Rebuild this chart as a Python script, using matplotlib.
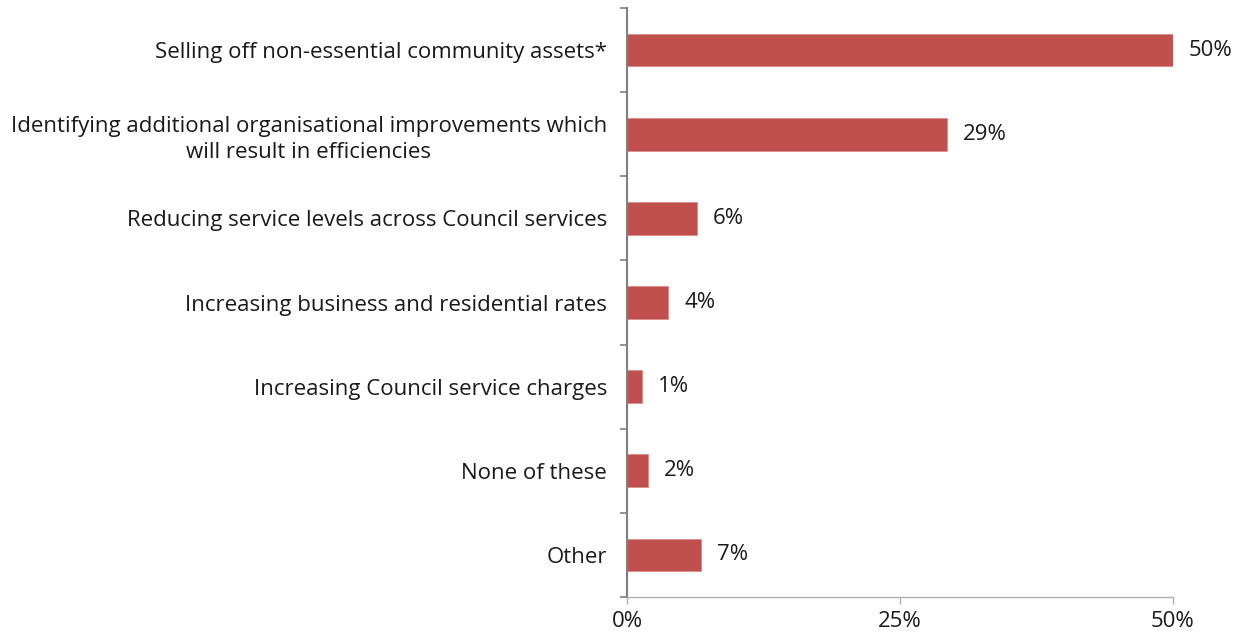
import matplotlib.pyplot as plt
import numpy as np

categories = [
    "Selling off non-essential community assets*",
    "Identifying additional organisational improvements which\nwill result in efficiencies",
    "Reducing service levels across Council services",
    "Increasing business and residential rates",
    "Increasing Council service charges",
    "None of these",
    "Other",
]
values = [50.0, 29.3, 6.4, 3.8, 1.4, 1.9, 6.8]
xticks = [0, 25, 50]

plt.rcParams['font.family'] = ['Open Sans', 'DejaVu Sans']
FS = 16

fig = plt.figure(figsize=(12.48, 6.34), dpi=100)
ax = fig.add_axes([627 / 1248, 1 - 597 / 634, 546 / 1248, 589 / 634])

y = np.arange(len(categories))
bars = ax.barh(y, values, height=0.39, color="#C0504D", edgecolor="#D98E8C", linewidth=0.6)

# value labels
for bar, v in zip(bars, values):
    ax.annotate(f"{round(v):.0f}%", (bar.get_width(), bar.get_y() + bar.get_height() / 2),
                xytext=(11.5, 0), textcoords="offset points", va="center", ha="left",
                fontsize=FS, color="#1a1a1a")

ax.set_ylim(len(categories) - 0.5, -0.5)
ax.set_xlim(0, 50)

ax.set_yticks(y)
ax.set_yticklabels(categories, fontsize=FS, color="#1a1a1a", linespacing=1.3)
ax.set_yticks(np.arange(-0.5, len(categories), 1), minor=True)
ax.tick_params(axis="y", which="major", length=0, pad=14.4)
ax.tick_params(axis="y", which="minor", length=5, width=1.2, color="#808080", direction="out")

ax.set_xticks(xticks)
ax.set_xticklabels([f"{t}%" for t in xticks], fontsize=FS, color="#1a1a1a")
ax.tick_params(axis="x", length=5, width=1.0, color="#b0b0b0", pad=5)

for lbl in ax.get_yticklabels():
    lbl.set_multialignment("center")

ax.spines["top"].set_visible(False)
ax.spines["right"].set_visible(False)
ax.spines["left"].set_color("#808080")
ax.spines["left"].set_linewidth(1.5)
ax.spines["bottom"].set_color("#b0b0b0")
ax.spines["bottom"].set_linewidth(1.0)

fig.savefig("out.png", dpi=100)
